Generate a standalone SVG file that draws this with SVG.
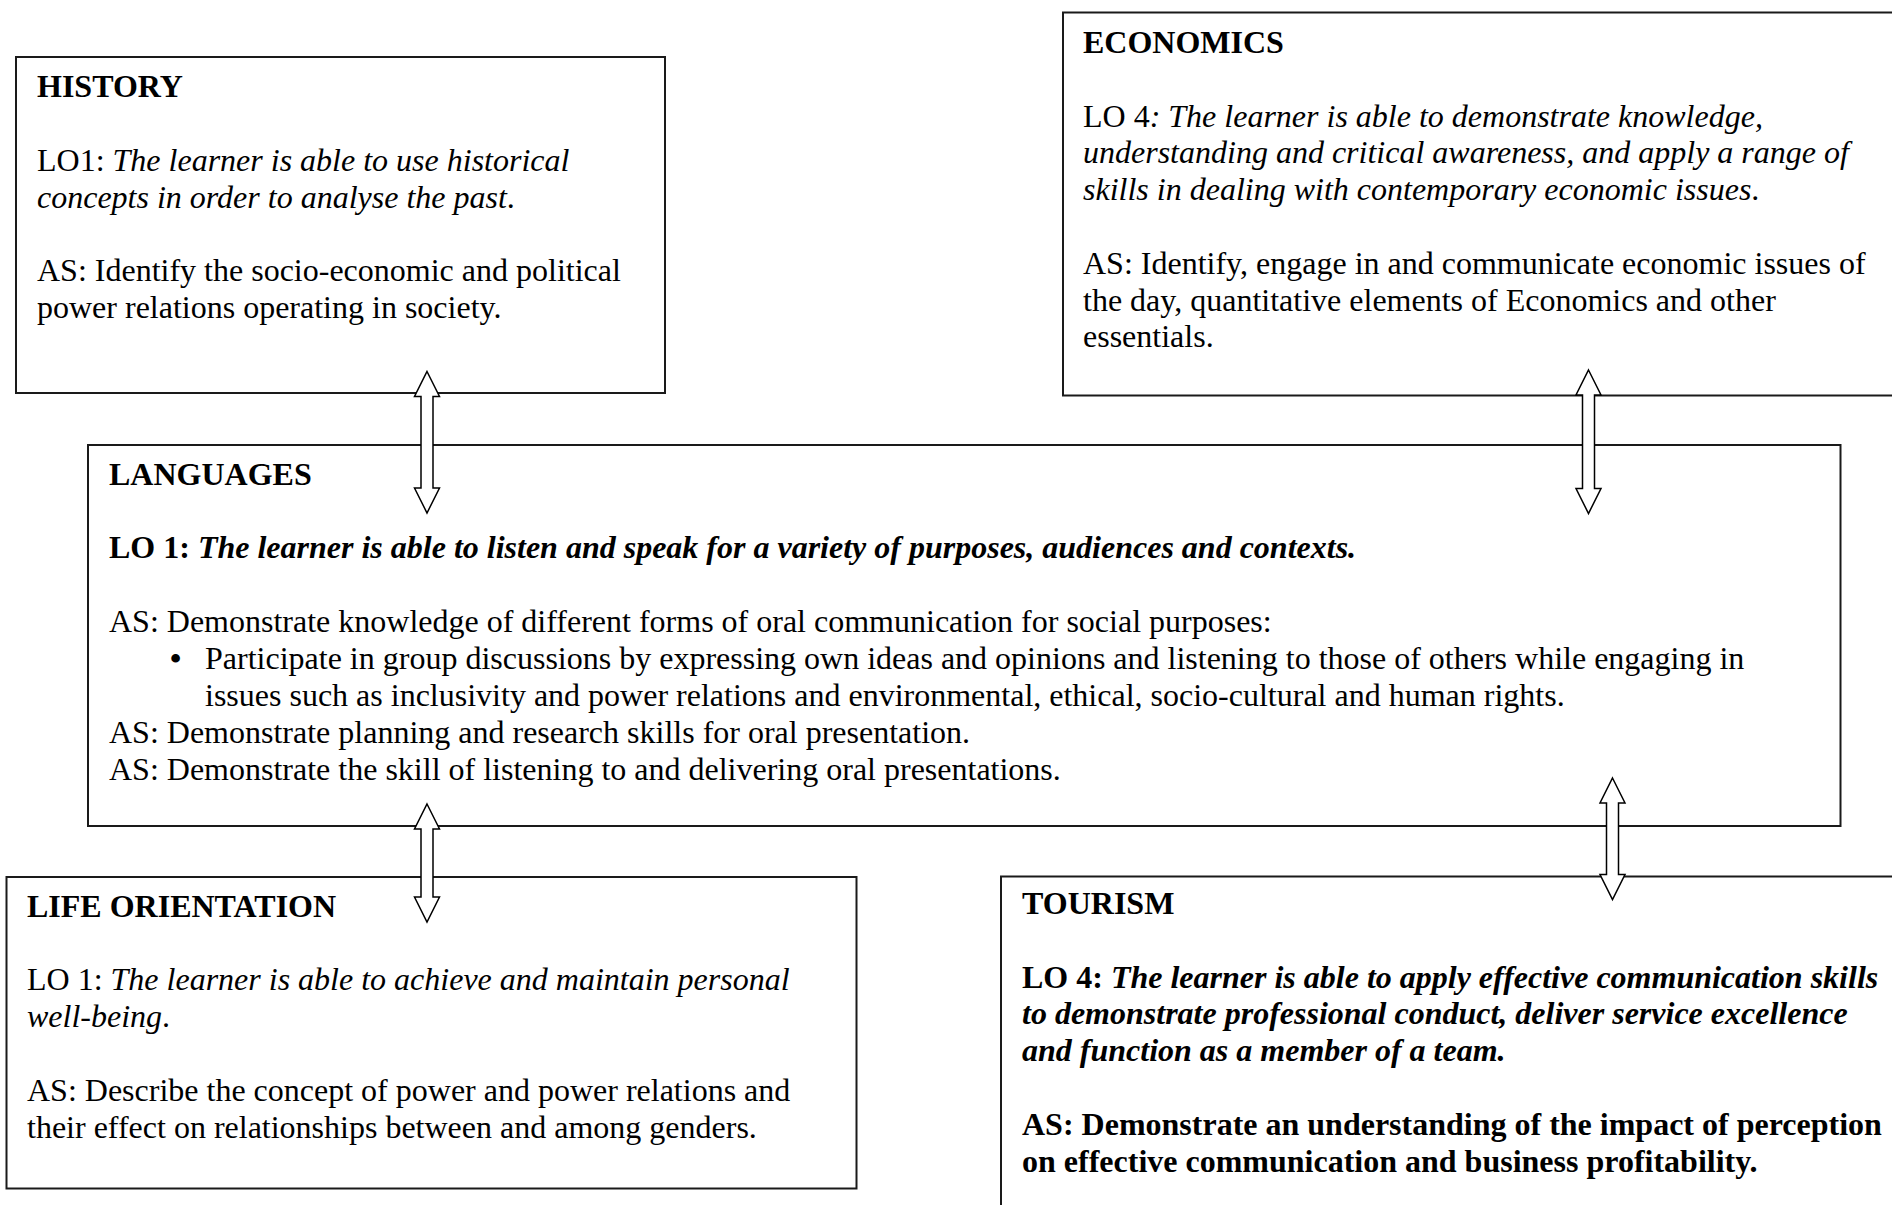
<svg xmlns="http://www.w3.org/2000/svg" width="1892" height="1205" viewBox="0 0 1892 1205">
<style>
.box{fill:#fff;stroke:#1a1a1a;stroke-width:2}
text{font-family:"Liberation Serif","Times New Roman",serif;font-size:32px;fill:#000}
.b{font-weight:bold}
.i{font-style:italic}
.arrow{fill:#fff;stroke:#000;stroke-width:1.5;stroke-linejoin:miter}
</style>
<rect width="1892" height="1205" fill="#fff"/>
<g id="history">
<rect class="box" x="16" y="57" width="649" height="336"/>
<text x="37" y="97.3" class="b">HISTORY</text>
<text x="37" y="170.9">LO1: <tspan class="i">The learner is able to use historical</tspan></text>
<text x="37" y="207.7" class="i">concepts in order to analyse the past<tspan font-style="normal">.</tspan></text>
<text x="37" y="281.3">AS: Identify the socio-economic and political</text>
<text x="37" y="318.1">power relations operating in society.</text>
</g>
<g id="economics">
<rect class="box" x="1063" y="12.5" width="900" height="383"/>
<text x="1083" y="53" class="b">ECONOMICS</text>
<text x="1083" y="126.6">LO 4<tspan class="i">: The learner is able to demonstrate knowledge,</tspan></text>
<text x="1083" y="163.4" class="i">understanding and critical awareness, and apply a range of</text>
<text x="1083" y="200.2" class="i">skills in dealing with contemporary economic issues<tspan font-style="normal">.</tspan></text>
<text x="1083" y="273.8">AS: Identify, engage in and communicate economic issues of</text>
<text x="1083" y="310.6">the day, quantitative elements of Economics and other</text>
<text x="1083" y="347.4">essentials.</text>
</g>
<g id="languages">
<rect class="box" x="88" y="445" width="1752.5" height="381"/>
<text x="109" y="484.7" class="b">LANGUAGES</text>
<text x="109" y="558.3" class="b">LO 1: <tspan class="i">The learner is able to listen and speak for a variety of purposes, audiences and contexts.</tspan></text>
<text x="109" y="631.5">AS: Demonstrate knowledge of different forms of oral communication for social purposes:</text>
<text x="170" y="668.5" class="b">•</text>
<text x="205" y="668.5">Participate in group discussions by expressing own ideas and opinions and listening to those of others while engaging in</text>
<text x="205" y="705.5">issues such as inclusivity and power relations and environmental, ethical, socio-cultural and human rights.</text>
<text x="109" y="742.5">AS: Demonstrate planning and research skills for oral presentation.</text>
<text x="109" y="779.5">AS: Demonstrate the skill of listening to and delivering oral presentations.</text>
</g>
<g id="life-orientation">
<rect class="box" x="6.5" y="877" width="850" height="311.5"/>
<text x="27" y="916.7" class="b">LIFE ORIENTATION</text>
<text x="27" y="990.3">LO 1: <tspan class="i">The learner is able to achieve and maintain personal</tspan></text>
<text x="27" y="1027.1"><tspan class="i">well-being</tspan>.</text>
<text x="27" y="1100.7">AS: Describe the concept of power and power relations and</text>
<text x="27" y="1137.5">their effect on relationships between and among genders.</text>
</g>
<g id="tourism">
<rect class="box" x="1001" y="876.5" width="950" height="400"/>
<text x="1022" y="914" class="b">TOURISM</text>
<text x="1022" y="987.6" class="b">LO 4: <tspan class="i">The learner is able to apply effective communication skills</tspan></text>
<text x="1022" y="1024.4" class="b i">to demonstrate professional conduct, deliver service excellence</text>
<text x="1022" y="1061.2" class="b i">and function as a member of a team.</text>
<text x="1022" y="1134.8" class="b">AS: Demonstrate an understanding of the impact of perception</text>
<text x="1022" y="1171.6" class="b">on effective communication and business profitability.</text>
</g>
<g id="connectors">
<polygon class="arrow" points="427,371.5 439.5,396.5 433,396.5 433,488 439.5,488 427,513 414.5,488 421,488 421,396.5 414.5,396.5"/>
<polygon class="arrow" points="1588.5,370 1601,395 1594.5,395 1594.5,488.5 1601,488.5 1588.5,513.5 1576,488.5 1582.5,488.5 1582.5,395 1576,395"/>
<polygon class="arrow" points="427,804 439.5,829 433,829 433,897 439.5,897 427,922 414.5,897 421,897 421,829 414.5,829"/>
<polygon class="arrow" points="1612.5,778 1625,803 1618.5,803 1618.5,874.5 1625,874.5 1612.5,899.5 1600,874.5 1606.5,874.5 1606.5,803 1600,803"/>
</g>
</svg>
